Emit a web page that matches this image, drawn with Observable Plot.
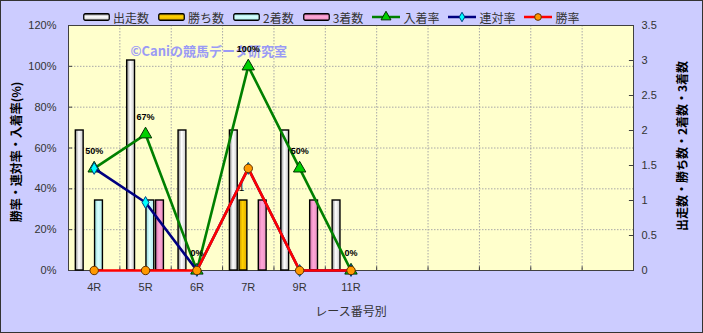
<!DOCTYPE html>
<html><head><meta charset="utf-8">
<script src="https://cdn.jsdelivr.net/npm/d3@7"></script>
<script src="https://cdn.jsdelivr.net/npm/@observablehq/plot@0.6"></script>
<style>
html,body{margin:0;padding:0;background:#fff}
#wrap{position:relative;width:703px;height:333px;box-sizing:border-box;border:1px solid #333;background:#CCCCFF;overflow:hidden;font-family:"Liberation Sans",Arial,sans-serif}
#chart{position:absolute;left:0;top:0}
#legend{position:absolute;left:82px;top:8px;height:16px;display:flex;align-items:center;gap:9px;font:12px "Noto Sans CJK JP",sans-serif;color:#333;white-space:nowrap}
#legend .it{display:flex;align-items:center}
#legend svg{margin-right:3px}
.vt{position:absolute;transform:translate(-50%,-50%) rotate(-90deg);white-space:nowrap;font:bold 12px "Noto Sans CJK JP",sans-serif;color:#000}
#xt{position:absolute;left:350px;top:309px;transform:translate(-50%,-50%);font:12px "Noto Sans CJK JP",sans-serif;color:#333;white-space:nowrap}
</style></head>
<body>
<div id="wrap">
  <div id="chart"></div>
  <div id="legend"></div>
  <div class="vt" style="left:14px;top:151px">勝率・連対率・入着率(%)</div>
  <div class="vt" style="left:680px;top:145px">出走数・勝ち数・2着数・3着数</div>
  <div id="xt">レース番号別</div>
</div>
<script>
// ---- data ----
const races = ["4R", "5R", "6R", "7R", "9R", "11R"];
const runners = [2, 3, 2, 2, 2, 1];      // 出走数
const wins = [0, 0, 0, 1, 0, 0];         // 勝ち数
const seconds = [1, 1, 0, 0, 0, 0];      // 2着数
const thirds = [0, 1, 0, 1, 1, 0];       // 3着数
const placeRate = [50, 66.7, 0, 100, 50, 0];   // 入着率
const rentaiRate = [50, 33.3, 0, 50, 0, 0];    // 連対率
const winRate = [0, 0, 0, 50, 0, 0];           // 勝率
const leftTicks = [0, 20, 40, 60, 80, 100, 120];
const rightTicks = [0, 0.5, 1, 1.5, 2, 2.5, 3, 3.5];
const slots = 11;
const leftMax = 120, rightMax = 3.5;
const watermark = "©Caniの競馬データ研究室";

// ---- styles ----
const barSeries = [
  {name: "出走数", values: runners, id: "gRun", dark: "#8c8c8c", light: "#ffffff", edge: "#c8c8c8"},
  {name: "勝ち数", values: wins, id: "gWin", dark: "#c89600", light: "#ffd200", edge: "#e0aa00"},
  {name: "2着数", values: seconds, id: "gSec", dark: "#8fd8d8", light: "#d8ffff", edge: "#b0eeee"},
  {name: "3着数", values: thirds, id: "gThi", dark: "#d070a8", light: "#ffa8d8", edge: "#e890c0"}
];
const lineSeries = [
  {name: "入着率", values: placeRate, stroke: "#008000", symbol: "triangle", r: 4.6, fill: "#00d000", ms: "#003000"},
  {name: "連対率", values: rentaiRate, stroke: "#000080", symbol: "diamond", r: 3.6, fill: "#00ffff", ms: "#004080"},
  {name: "勝率", values: winRate, stroke: "#ff0000", symbol: "circle", r: 4.2, fill: "#ff9900", ms: "#603000"}
];

const S = leftMax / rightMax;
const BW = 0.1875;
const xc = i => i + 0.5;

const marks = [
  Plot.frame({fill: "#FFFFCC"}),
  Plot.ruleY(leftTicks.slice(1, -1), {y: d => d, stroke: "#a8a8a8", strokeDasharray: "1.5,1.5"}),
  Plot.ruleX(d3.range(1, slots), {x: d => d, stroke: "#a8a8a8", strokeDasharray: "1.5,1.5"}),
  Plot.text([watermark], {frameAnchor: "top-left", text: d => d, dx: 62, dy: 21, textAnchor: "start",
    fill: "#9a9af5", fontSize: 13, fontWeight: "bold", fontFamily: "Noto Sans CJK JP"}),
  // frame border and inward ticks
  Plot.frame({stroke: "#404040", strokeWidth: 1}),
  Plot.ruleY(leftTicks, {y: d => d, x1: 0, x2: 0.08, stroke: "#404040"}),
  Plot.ruleY(rightTicks, {y: d => d * S, x1: slots - 0.08, x2: slots, stroke: "#404040"}),
  Plot.ruleX(d3.range(1, slots), {x: d => d, y1: 0, y2: 1.8, stroke: "#404040"})
];
barSeries.forEach((s, si) => {
  const rows = s.values.map((v, i) => ({i, v})).filter(d => d.v > 0);
  marks.push(Plot.rectY(rows, {
    x1: d => xc(d.i) + (si - 2) * BW, x2: d => xc(d.i) + (si - 1) * BW,
    y1: 0, y2: d => d.v * S, fill: `url(#${s.id})`, stroke: "#000", strokeWidth: 1.4,
    insetLeft: 0.9, insetRight: 0.9
  }));
});
// label on 勝ち数 bar
marks.push(Plot.text(wins.map((v, i) => ({i, v})).filter(d => d.v > 0), {
  x: d => xc(d.i) - BW / 2, y: d => d.v * S, text: d => String(d.v), dy: -13, dx: -2,
  fontSize: 10, fill: "#000"
}));
lineSeries.forEach(s => {
  marks.push(Plot.line(races, {x: (d, i) => xc(i), y: (d, i) => s.values[i], stroke: s.stroke, strokeWidth: 2.6}));
  marks.push(Plot.dot(races, {x: (d, i) => xc(i), y: (d, i) => s.values[i], symbol: s.symbol, r: s.r,
    fill: s.fill, stroke: s.ms, strokeWidth: 1}));
});
// 入着率 labels
marks.push(Plot.text(races, {x: (d, i) => xc(i), y: (d, i) => placeRate[i], text: (d, i) => Math.round(placeRate[i]) + "%",
  dy: -17, fontSize: 9, fontWeight: "bold", fill: "#000"}));
// tick labels
marks.push(Plot.text(leftTicks, {x: 0, y: d => d, text: d => d + "%", textAnchor: "end", dx: -12, fontSize: 11, fill: "#333"}));
marks.push(Plot.text(rightTicks, {x: slots, y: d => d * S, text: d => String(d), textAnchor: "start", dx: 8, fontSize: 11, fill: "#333"}));
marks.push(Plot.text(races, {x: (d, i) => xc(i), y: 0, text: d => d, dy: 17, fontSize: 11, fill: "#333"}));

const chart = Plot.plot({
  width: 701, height: 331,
  marginLeft: 67, marginTop: 24, marginRight: 69, marginBottom: 62,
  style: {background: "transparent", fontFamily: "Liberation Sans, Arial, sans-serif", overflow: "visible"},
  x: {domain: [0, slots], axis: null},
  y: {domain: [0, leftMax], axis: null},
  marks
});
const defs = d3.select(chart).insert("defs", ":first-child");
barSeries.forEach(s => {
  const g = defs.append("linearGradient").attr("id", s.id).attr("x1", 0).attr("x2", 1).attr("y1", 0).attr("y2", 0);
  g.append("stop").attr("offset", 0).attr("stop-color", s.dark);
  g.append("stop").attr("offset", 0.45).attr("stop-color", s.light);
  g.append("stop").attr("offset", 1).attr("stop-color", s.edge);
});
document.getElementById("chart").append(chart);

// legend
const lg = d3.select("#legend");
barSeries.forEach(s => {
  const it = lg.append("div").attr("class", "it");
  const sv = it.append("svg").attr("width", 27).attr("height", 8);
  const gd = sv.append("defs").append("linearGradient").attr("id", s.id + "L").attr("x1", 0).attr("x2", 0).attr("y1", 0).attr("y2", 1);
  gd.append("stop").attr("offset", 0).attr("stop-color", s.dark);
  gd.append("stop").attr("offset", 0.45).attr("stop-color", s.light);
  gd.append("stop").attr("offset", 1).attr("stop-color", s.edge);
  sv.append("rect").attr("x", 0.75).attr("y", 0.75).attr("width", 25.5).attr("height", 6.5).attr("rx", 1.5)
    .attr("fill", `url(#${s.id}L)`).attr("stroke", "#000").attr("stroke-width", 1.3);
  it.append("span").text(s.name);
});
lineSeries.forEach(s => {
  const it = lg.append("div").attr("class", "it");
  const sv = it.append("svg").attr("width", 28).attr("height", 12);
  sv.append("line").attr("x1", 0).attr("x2", 28).attr("y1", 6).attr("y2", 6).attr("stroke", s.stroke).attr("stroke-width", 2.5);
  const sym = {triangle: d3.symbolTriangle, diamond: d3.symbolDiamond, circle: d3.symbolCircle}[s.symbol];
  sv.append("path").attr("d", d3.symbol(sym, Math.PI * (s.r * 0.8) ** 2)()).attr("transform", "translate(14,6)")
    .attr("fill", s.fill).attr("stroke", s.ms).attr("stroke-width", 1);
  it.append("span").text(s.name);
});
</script>
</body></html>
